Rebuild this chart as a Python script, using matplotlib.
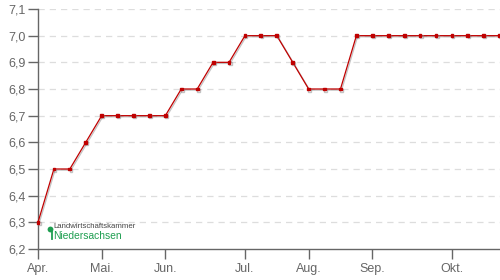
import matplotlib
matplotlib.use("Agg")
import matplotlib.pyplot as plt
import matplotlib.patheffects as pe
from matplotlib.ticker import FuncFormatter, FixedLocator

values = [6.3, 6.5, 6.5, 6.6, 6.7, 6.7, 6.7, 6.7, 6.7, 6.8,
          6.8, 6.9, 6.9, 7.0, 7.0, 7.0, 6.9, 6.8, 6.8, 6.8,
          7.0, 7.0, 7.0, 7.0, 7.0, 7.0, 7.0, 7.0, 7.0, 7.0]
weeks = list(range(len(values)))
month_labels = ["Apr.", "Mai.", "Jun.", "Jul.", "Aug.", "Sep.", "Okt."]
month_weeks = [0, 4, 8, 13, 17, 21, 26]
y_ticks = [6.2, 6.3, 6.4, 6.5, 6.6, 6.7, 6.8, 6.9, 7.0, 7.1]

plt.rcParams['font.family'] = ['Liberation Sans', 'DejaVu Sans']

fig = plt.figure(figsize=(5, 2.8), dpi=100)
ax = fig.add_axes([38/500, 31/280, 462/500, 240/280])

ax.set_xlim(0, 29.02)
ax.set_ylim(6.2, 7.1)

for y in y_ticks[1:]:
    ax.axhline(y, color="#dddddd", lw=0.9, ls=(0, (5, 4)), zorder=1)

ax.plot(weeks, values, color="#c00000", lw=0.9, marker="s", ms=2.0,
        mfc="#c00000", mec="#c00000", zorder=3, clip_on=False,
        path_effects=[pe.SimpleLineShadow(offset=(0.8, -0.8), shadow_color="#888888", alpha=0.5), pe.Normal()])

ax.yaxis.set_major_locator(FixedLocator(y_ticks))
ax.yaxis.set_major_formatter(FuncFormatter(lambda v, p: f"{v:.1f}".replace(".", ",")))
ax.xaxis.set_major_locator(FixedLocator(month_weeks))
ax.set_xticklabels(month_labels)

for s in ["top", "right"]:
    ax.spines[s].set_visible(False)
for s in ["left", "bottom"]:
    ax.spines[s].set_color("#666666")
    ax.spines[s].set_linewidth(1.0)

ax.tick_params(axis="both", colors="#666666", length=7, width=1.0,
               labelsize=9, labelcolor="#666666")
ax.tick_params(axis="y", pad=2)
ax.tick_params(axis="x", pad=3)

# logo
fig.add_artist(plt.Line2D([51.5/500, 51.5/500], [1 - 229/280, 1 - 239/280], color="#1e9e50", lw=1.3))
fig.add_artist(plt.Line2D([50/500], [1 - 229/280], marker="o", ms=4.2, color="#1e9e50", mec="none"))
fig.text(53.5/500, 1 - 227/280, "Landwirtschaftskammer", color="#444444", fontsize=5.6,
         ha="left", va="center")
fig.text(53.5/500, 1 - 236/280, "Niedersachsen", color="#1e9e50", fontsize=7.4,
         ha="left", va="center", fontweight="medium")

fig.savefig("out.png", dpi=100)
